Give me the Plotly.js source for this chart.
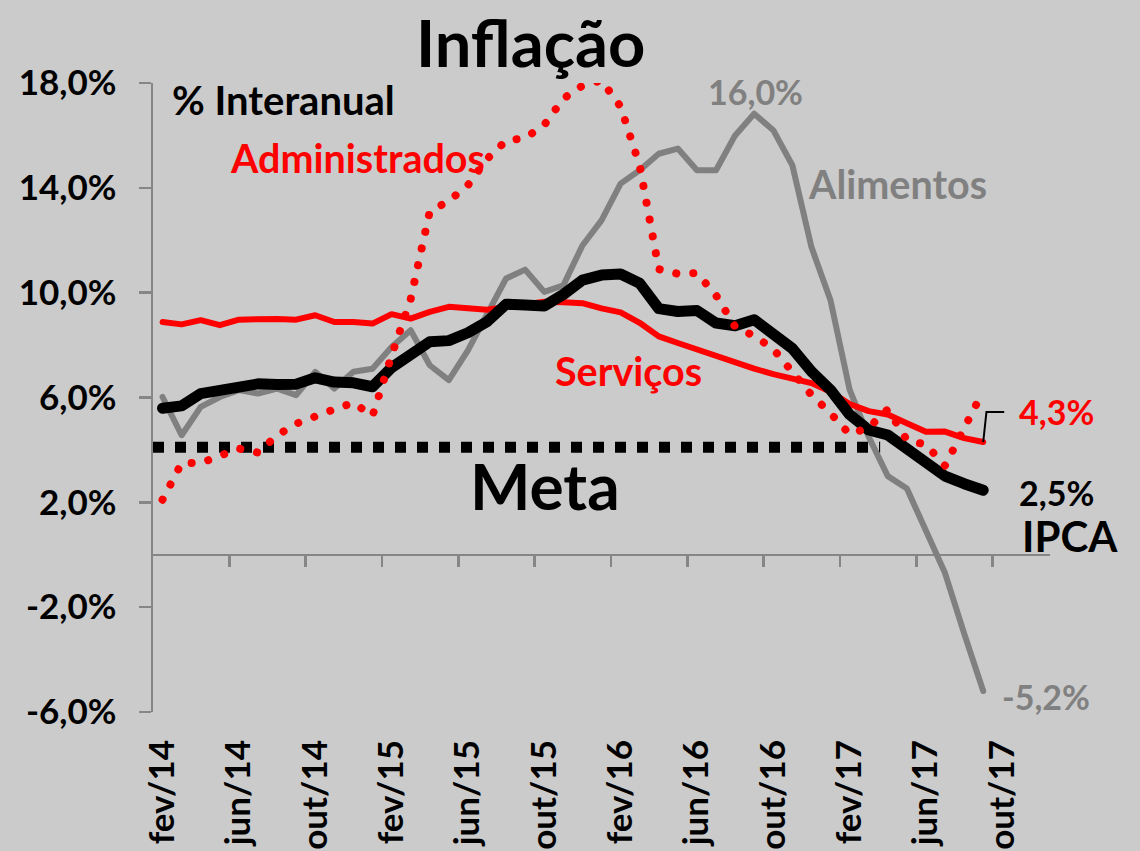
<!DOCTYPE html>
<html><head><meta charset="utf-8">
<script src="https://cdn.plot.ly/plotly-3.0.1.min.js"></script>
<style>
html,body{margin:0;padding:0;background:#cbcbcb;}
#chart{width:1140px;height:851px;}
</style>
</head><body><div id="chart"></div>
<script>
// Month categories (axis slots), starting at the first plotted point
const meses = ['fev/14','mar/14','abr/14','mai/14','jun/14','jul/14','ago/14','set/14','out/14','nov/14','dez/14','jan/15',
  'fev/15','mar/15','abr/15','mai/15','jun/15','jul/15','ago/15','set/15','out/15','nov/15','dez/15','jan/16',
  'fev/16','mar/16','abr/16','mai/16','jun/16','jul/16','ago/16','set/16','out/16','nov/16','dez/16','jan/17',
  'fev/17','mar/17','abr/17','mai/17','jun/17','jul/17','ago/17','set/17','out/17','nov/17','dez/17'];

// Series (% interanual)
const ipca = [5.59,5.68,6.15,6.28,6.37,6.52,6.50,6.51,6.75,6.59,6.56,6.41,7.14,7.70,8.13,8.17,8.47,8.89,9.56,9.53,9.49,9.93,
  10.48,10.67,10.71,10.36,9.39,9.28,9.32,8.84,8.74,8.97,8.48,7.87,6.99,6.29,5.35,4.76,4.57,4.08,3.60,3.00,2.71,2.46];
const servicos = [8.88,8.79,8.95,8.76,8.97,9.01,9.00,8.97,9.14,8.88,8.88,8.82,9.18,9.01,9.27,9.46,9.40,9.35,9.45,9.55,9.65,9.63,
  9.60,9.40,9.25,8.85,8.33,8.08,7.83,7.57,7.36,7.10,6.89,6.70,6.55,6.22,5.75,5.48,5.35,5.02,4.69,4.70,4.45,4.30];
const administrados = [2.1,3.5,3.5,3.75,4.05,3.9,4.55,5.0,5.3,5.55,5.8,5.3,7.6,9.75,13.1,13.5,14.1,15.1,15.8,15.9,16.4,17.4,
  17.9,18.1,17.1,14.85,10.9,10.72,10.75,9.9,8.7,8.35,7.85,7.0,6.1,5.4,4.6,4.85,5.55,4.38,4.2,3.4,4.75,6.25];
const alimentos = [6.02,4.56,5.64,6.02,6.28,6.15,6.34,6.09,6.98,6.34,6.98,7.10,7.93,8.57,7.23,6.66,7.8,9.2,10.54,10.88,10.03,10.28,
  11.8,12.76,14.16,14.67,15.3,15.5,14.67,14.67,16.0,16.83,16.2,14.86,11.74,9.71,6.3,4.5,3.0,2.53,0.9,-0.7,-3.0,-5.2];
const metaValor = 4.1;
const metaInicio = -0.5, metaFim = 37.6;

// Axis ticks
const yTickVals = [-6,-2,2,6,10,14,18];
const yTickText = ['-6,0%','-2,0%','2,0%','6,0%','10,0%','14,0%','18,0%'];
const xTickStep = 4;

const idx = ipca.map((_, i) => i);
const xTickVals = meses.map((_, i) => i).filter(i => i % xTickStep === 0 && i < 45);
const xTickText = xTickVals.map(i => meses[i]);
const xBoundaryTicks = xTickVals.slice(1).map(i => i - 0.5);

const FONT = 'Lato, "Open Sans", sans-serif';
const GRAY = '#808080';
const RED = '#ff0000';
const AXIS = '#868686';

const traces = [
  {x:[metaInicio, metaFim], y:[metaValor, metaValor], mode:'lines', line:{color:'#000', width:11, dash:'dot'}, hoverinfo:'skip'},
  {x:idx, y:alimentos, mode:'lines', line:{color:GRAY, width:6}},
  {x:idx, y:servicos, mode:'lines', line:{color:RED, width:6}},
  {x:idx, y:ipca, mode:'lines', line:{color:'#000', width:11}},
  {x:idx, y:administrados, mode:'lines', line:{color:RED, width:8, dash:'0.1px,17px'}},
  // invisible helper so the zero-line axis (x2) is drawn
  {x:idx, y:ipca, xaxis:'x2', mode:'lines', line:{width:0, color:'rgba(0,0,0,0)'}, opacity:0, hoverinfo:'skip'}
];

function ann(text, x, y, size, color, xanchor, yanchor) {
  return {text:text, xref:'paper', yref:'paper', x:x, y:y, xanchor:xanchor||'left', yanchor:yanchor||'middle',
    showarrow:false, font:{family:FONT, size:size, color:color, weight:700}};
}

const lastI = servicos.length - 1;
const layout = {
  width:1140, height:851,
  margin:{l:153, r:90, t:83, b:139, pad:0},
  paper_bgcolor:'#cbcbcb', plot_bgcolor:'#cbcbcb',
  showlegend:false,
  font:{family:FONT, color:'#000', weight:700},
  xaxis:{range:[-0.5,46.5], tickmode:'array', tickvals:xTickVals, ticktext:xTickText, tickangle:-90,
    ticks:'', showline:false, showgrid:false, zeroline:false, ticklabelstandoff:20,
    tickfont:{family:FONT, size:35, color:'#000', weight:700}},
  xaxis2:{overlaying:'x', anchor:'free', position:0.25, side:'bottom', range:[-0.5,46.5], tickmode:'array', tickvals:xBoundaryTicks,
    ticks:'outside', ticklen:11, tickwidth:2.5, tickcolor:AXIS, showticklabels:false, showline:true,
    linecolor:AXIS, linewidth:2.5, layer:'below traces', showgrid:false, zeroline:false},
  yaxis:{range:[-6,18], tickmode:'array', tickvals:yTickVals, ticktext:yTickText, showline:true, linecolor:AXIS,
    linewidth:2.5, ticks:'outside', ticklen:12, tickwidth:2.5, tickcolor:AXIS, showgrid:false,
    zeroline:false, ticklabelstandoff:15,
    tickfont:{family:FONT, size:35, color:'#000', weight:700}},
  shapes:[{type:'path', xref:'x', yref:'y', line:{color:'#000', width:2},
    path:`M ${lastI},${servicos[lastI]} L ${lastI+0.17},${servicos[lastI]+1.15} L ${lastI+1.1},${servicos[lastI]+1.15}`}],
  annotations:[
    ann('Inflação', 0.4203, 1.1304, 65, '#000', 'center', 'top'),
    ann('% Interanual', 0.019, 0.9725, 40, '#000'),
    ann('Administrados', 0.0836, 0.882, 39.5, RED),
    ann('16,0%', 0.6165, 0.9868, 34, GRAY),
    ann('Alimentos', 0.728, 0.8405, 39.5, GRAY),
    ann('Serviços', 0.446, 0.5435, 39.5, RED),
    ann('Meta', 0.3512, 0.3607, 64, '#000'),
    ann('4,3%', 0.9632, 0.4775, 34, RED),
    ann('2,5%', 0.9632, 0.3496, 34, '#000'),
    ann('IPCA', 0.9666, 0.2797, 42, '#000'),
    ann('-5,2%', 0.9443, 0.0246, 34, GRAY)
  ]
};

Plotly.newPlot('chart', traces, layout, {staticPlot:true}).then(function(gd){
  const groups = gd.querySelectorAll('.cartesianlayer .subplot.xy .scatterlayer .trace');
  groups.forEach(function(g, i){
    if (i === 0) return;
    g.querySelectorAll('path.js-line').forEach(function(p){
      p.style.strokeLinecap = 'round';
      p.style.strokeLinejoin = 'round';
    });
  });
});
</script>
</body></html>
